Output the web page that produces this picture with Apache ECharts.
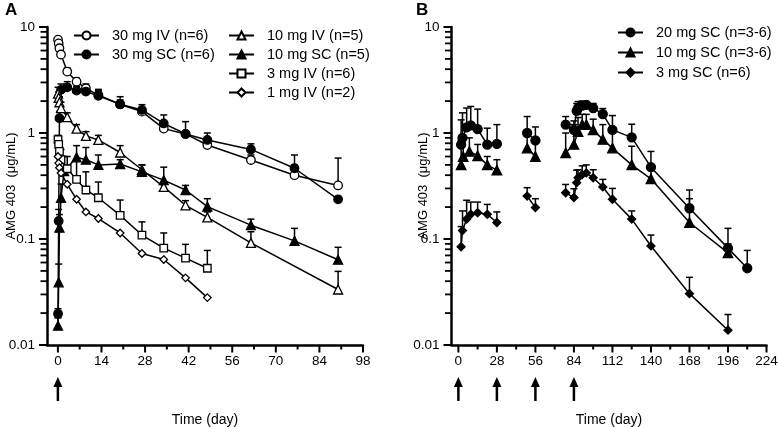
<!DOCTYPE html>
<html><head><meta charset="utf-8">
<script src="https://cdn.jsdelivr.net/npm/echarts@6/dist/echarts.min.js"></script>
<style>html,body{margin:0;padding:0;background:#fff}#c{width:778px;height:427px}</style>
</head><body><div id="c"></div>
<script>
// ---------- Panel A data ----------
const leftDays = [0.04, 0.25, 0.5, 1, 3, 6, 9, 13, 20, 27, 34, 41, 48, 62, 76, 90];
const iv30 = [7.6, 7.0, 6.3, 5.5, 3.8, 3.05, 2.64, 2.28, 1.86, 1.59, 1.1, 0.98, 0.77, 0.556, 0.40, 0.32];
const iv30Err = [null, null, null, null, 4.1, 3.3, 2.9, 2.5, 2.05, 1.72, 1.25, 1.05, 0.85, 0.62, 0.5, 0.58];
const sc30 = [0.0197, 0.148, 1.38, 2.55, 2.7, 2.51, 2.46, 2.24, 1.87, 1.65, 1.23, 0.98, 0.86, 0.70, 0.465, 0.237];
const sc30Err = [0.022, 0.19, 1.6, 2.9, 3.05, 2.75, 2.7, 2.58, 2.2, 1.85, 1.48, 1.28, 1.0, 0.79, 0.62, 0.25];
const iv10Days = [0.04, 0.25, 0.5, 1, 3, 6, 9, 13, 20, 27, 34, 41, 48, 62, 90];
const iv10 = [2.35, 2.15, 1.95, 1.72, 1.41, 1.1, 0.94, 0.86, 0.655, 0.45, 0.31, 0.208, 0.16, 0.092, 0.0334];
const iv10Err = [2.7, 2.45, 2.2, 1.95, 1.55, 1.2, 1.03, 0.95, 0.76, 0.5, 0.34, 0.23, 0.18, 0.117, 0.0495];
const sc10Days = [0.04, 0.25, 0.5, 1, 2, 6, 9, 13, 20, 27, 34, 41, 48, 62, 76, 90];
const sc10 = [0.0152, 0.039, 0.128, 0.245, 0.436, 0.59, 0.56, 0.50, 0.51, 0.43, 0.359, 0.29, 0.202, 0.135, 0.096, 0.0638];
const sc10Err = [0.018, 0.058, 0.17, 0.33, 0.6, 0.76, 0.73, 0.62, 0.56, 0.5, 0.476, 0.32, 0.24, 0.154, 0.126, 0.0835];
const iv3Days = [0.04, 0.25, 0.5, 1, 3, 6, 9, 13, 20, 27, 34, 41, 48];
const iv3 = [0.865, 0.78, 0.67, 0.56, 0.46, 0.365, 0.29, 0.245, 0.167, 0.109, 0.082, 0.066, 0.053];
const iv3Err = [0.95, 0.9, 0.8, 0.7, 0.6, 0.55, 0.43, 0.345, 0.233, 0.145, 0.114, 0.089, 0.078];
const iv1Days = [0.04, 0.25, 0.5, 1, 3, 6, 9, 13, 20, 27, 34, 41, 48];
const iv1 = [0.6, 0.52, 0.47, 0.42, 0.328, 0.237, 0.18, 0.156, 0.114, 0.073, 0.064, 0.043, 0.028];
const leftDose = [0];

// ---------- Panel B data ----------
const r20Days = [2, 3, 6, 9, 14, 21, 28, 50, 56, 78, 84, 86, 87, 90, 93, 98, 105, 112, 126, 140, 168, 196, 210];
const r20 = [0.776, 0.90, 1.13, 1.18, 1.09, 0.776, 0.79, 1.0, 0.85, 1.2, 1.07, 1.62, 1.72, 1.81, 1.84, 1.72, 1.51, 1.07, 0.91, 0.476, 0.195, 0.082, 0.053];
const r20Err = [1.33, 1.55, 1.72, 1.78, 1.68, 1.11, 1.2, 1.43, 1.14, 1.43, 1.3, 1.9, 1.98, 2.0, 1.98, 1.9, 1.7, 1.46, 1.21, 0.67, 0.29, 0.126, 0.078];
const r10Days = [2, 3.5, 8, 14, 21, 28, 50, 56, 78, 84, 87, 90, 93, 98, 105, 112, 126, 140, 168, 196];
const r10 = [0.50, 0.60, 0.67, 0.61, 0.50, 0.446, 0.72, 0.60, 0.65, 0.78, 1.03, 1.2, 1.2, 1.07, 0.87, 0.72, 0.50, 0.37, 0.143, 0.074];
const r10Err = [0.85, 0.9, 0.9, 0.78, 0.6, 0.56, 0.95, 0.8, 1.0, 1.2, 1.4, 1.5, 1.5, 1.35, 1.2, 1.0, 0.75, 0.5, 0.24, 0.09];
const r3Days = [2, 3, 6, 9, 14, 21, 28, 50, 56, 78, 84, 86, 87, 90, 93, 98, 105, 112, 126, 140, 168, 196];
const r3 = [0.0845, 0.12, 0.154, 0.171, 0.177, 0.171, 0.143, 0.254, 0.198, 0.273, 0.246, 0.34, 0.378, 0.406, 0.42, 0.378, 0.31, 0.237, 0.154, 0.086, 0.0305, 0.0138];
const r3Err = [0.131, 0.184, 0.232, 0.223, 0.223, 0.212, 0.18, 0.305, 0.24, 0.327, 0.298, 0.446, 0.45, 0.49, 0.5, 0.45, 0.365, 0.3, 0.184, 0.109, 0.0435, 0.0194];
const rightBreaks = [40, 67];
const rightDose = [0, 28, 56, 84];

// ---------- ticks ----------
const leftXTicks = [0, 14, 28, 42, 56, 70, 84, 98];
const leftXMinor = [7, 21, 35, 49, 63, 77, 91];
const rightXTicks = [0, 28, 56, 84, 112, 140, 168, 196, 224];
const rightXMinor = [14, 42, 70, 98, 126, 154, 182, 210];
const yTicks = [0.01, 0.1, 1, 10];
const yMinor = [0.02,0.03,0.04,0.05,0.06,0.07,0.08,0.09,0.2,0.3,0.4,0.5,0.6,0.7,0.8,0.9,2,3,4,5,6,7,8,9];
const leftXMin = -3.5, leftXMax = 98, rightXMin = -5, rightXMax = 224;

const FONT = 'Liberation Sans, Arial, Helvetica, sans-serif';
const chart = echarts.init(document.getElementById('c'), null, {renderer: 'canvas'});

function pairs(days, vals, breaks) {
  const out = [];
  days.forEach((d, i) => {
    if (breaks) breaks.forEach(b => { if (i > 0 && days[i-1] < b && d > b) out.push([b, '-']); });
    out.push([d, vals[i]]);
  });
  return out;
}
function lineS(name, ax, days, vals, symbol, size, filled, breaks) {
  return {
    name, type: 'line', xAxisIndex: ax, yAxisIndex: ax, data: pairs(days, vals, breaks),
    symbol, symbolSize: size, showSymbol: true, connectNulls: false, z: 5,
    lineStyle: {color: '#000', width: 1.5},
    itemStyle: {color: filled ? '#000' : '#fff', borderColor: '#000', borderWidth: 1.3, opacity: 1},
    emphasis: {disabled: true}
  };
}
function errS(ax, days, vals, errs) {
  const data = [];
  days.forEach((d, i) => { if (errs[i] != null) data.push([d, vals[i], errs[i]]); });
  return {
    type: 'custom', xAxisIndex: ax, yAxisIndex: ax, clip: false, z: 2, silent: true,
    data, encode: {x: 0, y: [1, 2]},
    renderItem: (params, api) => {
      const p = api.coord([api.value(0), api.value(1)]);
      const t = api.coord([api.value(0), api.value(2)]);
      return {type: 'group', children: [
        {type: 'line', shape: {x1: p[0], y1: p[1], x2: t[0], y2: t[1]}, style: {stroke: '#000', lineWidth: 1.5}},
        {type: 'line', shape: {x1: t[0] - 3.5, y1: t[1], x2: t[0] + 3.5, y2: t[1]}, style: {stroke: '#000', lineWidth: 1.5}}
      ]};
    }
  };
}
function arrowS(ax, doses) {
  return {
    type: 'custom', xAxisIndex: ax, yAxisIndex: ax, clip: false, silent: true, z: 3,
    data: doses.map(d => [d, 0.01]), encode: {x: 0, y: 1},
    renderItem: (params, api) => {
      const p = api.coord([api.value(0), api.value(1)]);
      const x = p[0], y0 = p[1];
      return {type: 'group', children: [
        {type: 'line', shape: {x1: x, y1: y0 + 40, x2: x, y2: y0 + 56}, style: {stroke: '#000', lineWidth: 2.5}},
        {type: 'polygon', shape: {points: [[x, y0 + 32], [x - 4.5, y0 + 42], [x + 4.5, y0 + 42]]}, style: {fill: '#000'}}
      ]};
    }
  };
}
function xAxisOpt(grid, min, max, major) {
  return {
    gridIndex: grid, type: 'value', min, max, position: 'bottom',
    name: 'Time (day)', nameLocation: 'middle', nameGap: 68, nameMoveOverlap: false,
    nameTextStyle: {fontSize: 14, color: '#000', fontFamily: FONT},
    axisLine: {show: true, onZero: false, lineStyle: {color: '#000', width: 2.5}},
    axisTick: {show: false},
    axisLabel: {customValues: major, fontSize: 13.5, color: '#000', margin: 9, fontFamily: FONT},
    splitLine: {show: false}
  };
}
function yFmt(v) { return v >= 1 ? String(Math.round(v)) : String(+v.toPrecision(1)); }
function yAxisOpt(grid, gap) {
  return {
    gridIndex: grid, type: 'log', logBase: 10, min: 0.01, max: 10, position: 'left',
    name: 'AMG 403  (\u03bcg/mL)', nameLocation: 'middle', nameGap: gap, nameMoveOverlap: false,
    nameTextStyle: {fontSize: 13, color: '#000', fontFamily: FONT},
    axisLine: {show: true, onZero: false, lineStyle: {color: '#000', width: 2.5}},
    axisTick: {show: false},
    axisLabel: {customValues: yTicks, formatter: yFmt, fontSize: 13.5, color: '#000', margin: 12, fontFamily: FONT},
    splitLine: {show: false}
  };
}
const legendText = {fontSize: 14.5, color: '#000', fontFamily: FONT, padding: [0, 0, 0, 8]};
const legendBase = {orient: 'vertical', itemWidth: 25, itemHeight: 10, itemGap: 4, padding: 0, textStyle: legendText, selectedMode: false};

chart.setOption({
  animation: false,
  backgroundColor: '#fff',
  textStyle: {fontFamily: FONT},
  title: [
    {text: 'A', left: 5, top: 2, padding: 0, textStyle: {fontSize: 17, fontWeight: 'bold', color: '#000', fontFamily: FONT}},
    {text: 'B', left: 416, top: 2, padding: 0, textStyle: {fontSize: 17, fontWeight: 'bold', color: '#000', fontFamily: FONT}}
  ],
  legend: [
    Object.assign({}, legendBase, {left: 73, top: 28, data: ['30 mg IV (n=6)', '30 mg SC (n=6)']}),
    Object.assign({}, legendBase, {left: 228, top: 28, data: ['10 mg IV (n=5)', '10 mg SC (n=5)', '3 mg IV (n=6)', '1 mg IV (n=2)']}),
    Object.assign({}, legendBase, {left: 617, top: 25, itemGap: 5, data: ['20 mg SC (n=3-6)', '10 mg SC (n=3-6)', '3 mg SC (n=6)']})
  ],
  grid: [
    {left: 47, top: 27, width: 316, height: 318, containLabel: false, outerBoundsMode: 'none'},
    {left: 451.5, top: 27, width: 315, height: 318, containLabel: false, outerBoundsMode: 'none'}
  ],
  xAxis: [xAxisOpt(0, leftXMin, leftXMax, leftXTicks), xAxisOpt(1, rightXMin, rightXMax, rightXTicks)],
  yAxis: [yAxisOpt(0, 29), yAxisOpt(1, 22)],
  series: [
    errS(0, leftDays, iv30, iv30Err),
    errS(0, leftDays, sc30, sc30Err),
    errS(0, iv10Days, iv10, iv10Err),
    errS(0, sc10Days, sc10, sc10Err),
    errS(0, iv3Days, iv3, iv3Err),
    lineS('30 mg IV (n=6)', 0, leftDays, iv30, 'circle', 8.5, false),
    lineS('30 mg SC (n=6)', 0, leftDays, sc30, 'circle', 8.5, true),
    lineS('10 mg IV (n=5)', 0, iv10Days, iv10, 'triangle', 9, false),
    lineS('10 mg SC (n=5)', 0, sc10Days, sc10, 'triangle', 9, true),
    lineS('3 mg IV (n=6)', 0, iv3Days, iv3, 'rect', 7.5, false),
    lineS('1 mg IV (n=2)', 0, iv1Days, iv1, 'diamond', 7.5, false),
    arrowS(0, leftDose),
    errS(1, r20Days, r20, r20Err),
    errS(1, r10Days, r10, r10Err),
    errS(1, r3Days, r3, r3Err),
    lineS('20 mg SC (n=3-6)', 1, r20Days, r20, 'circle', 9, true, rightBreaks),
    lineS('10 mg SC (n=3-6)', 1, r10Days, r10, 'triangle', 9.5, true, rightBreaks),
    lineS('3 mg SC (n=6)', 1, r3Days, r3, 'diamond', 8, true, rightBreaks),
    arrowS(1, rightDose)
  ]
});

// Axis tick marks: positions come from the chart's own axis scales via convertToPixel.
const tickEls = [];
function addXTicks(gi, vals, len) {
  vals.forEach(v => {
    const p = chart.convertToPixel({xAxisIndex: gi, yAxisIndex: gi}, [v, 0.01]);
    tickEls.push({type: 'rect', z: 100, silent: true, shape: {x: p[0] - 1, y: p[1], width: 2, height: len}, style: {fill: '#000'}});
  });
}
function addYTicks(gi, xmin, vals, len, w) {
  vals.forEach(v => {
    const p = chart.convertToPixel({xAxisIndex: gi, yAxisIndex: gi}, [xmin, v]);
    tickEls.push({type: 'rect', z: 100, silent: true, shape: {x: p[0] - len, y: p[1] - w / 2, width: len, height: w}, style: {fill: '#000'}});
  });
}
addXTicks(0, leftXTicks, 7.5); addXTicks(0, leftXMinor, 4.5);
addYTicks(0, leftXMin, yTicks, 8, 2); addYTicks(0, leftXMin, yMinor, 6.5, 1.8);
addXTicks(1, rightXTicks, 7.5); addXTicks(1, rightXMinor, 4.5);
addYTicks(1, rightXMin, yTicks, 8, 2); addYTicks(1, rightXMin, yMinor, 6.5, 1.8);
chart.setOption({graphic: {elements: tickEls}});
</script>
</body></html>
